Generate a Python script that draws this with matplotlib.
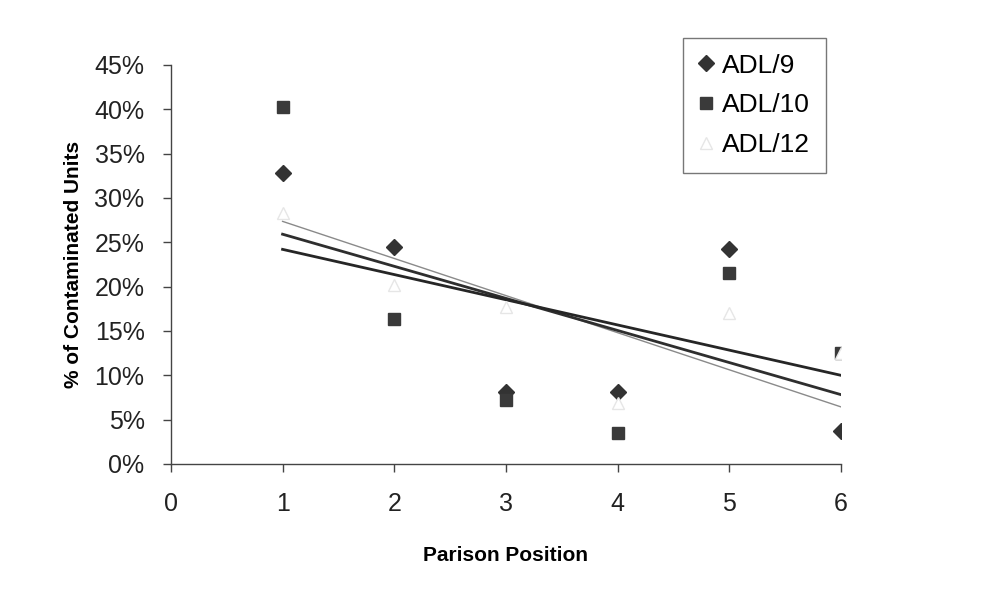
import numpy as np
import matplotlib
matplotlib.use("Agg")
import matplotlib.pyplot as plt

plt.rcParams['font.family'] = ['Liberation Sans', 'DejaVu Sans']

# Data (% of contaminated units)
positions = [1, 2, 3, 4, 5, 6]
adl9 = [32.8, 24.5, 8.1, 8.1, 24.2, 3.7]
adl10 = [40.2, 16.3, 7.2, 3.5, 21.5, 12.5]
adl12 = [28.3, 20.2, 17.7, 6.9, 17.0, 12.5]

fig = plt.figure(figsize=(9.88, 6.01), dpi=100)
ax = fig.add_axes([0.173, 0.228, 0.678, 0.664])

x = np.array(positions)

# linear trend lines, drawn first so markers sit on top
for vals, col, lw in [(adl9, '#8a8a8a', 1.0), (adl10, '#2e2e2e', 2.0), (adl12, '#262626', 2.0)]:
    k, b = np.polyfit(x, vals, 1)
    ax.plot(x, k * x + b, color=col, lw=lw, zorder=2)

ax.plot(x, adl9, 'D', color='#333333', ms=8.5, label='ADL/9', zorder=3)
ax.plot(x, adl10, 's', color='#3a3a3a', ms=9, label='ADL/10', zorder=3)
ax.plot(x, adl12, '^', mfc='white', mec='#e6e6e6', ms=9, label='ADL/12', zorder=4)

ax.set_xlim(0, 6)
ax.set_ylim(0, 45)
ax.set_xticks(range(0, 7))
ax.set_yticks(range(0, 50, 5))
ax.set_yticklabels([f'{v}%' for v in range(0, 50, 5)])
ax.tick_params(axis='both', direction='out', length=6, width=1, color='#444444',
               labelsize=18, labelcolor='#222222')
ax.tick_params(axis='x', pad=14)
ax.tick_params(axis='y', pad=13)

for s in ['top', 'right']:
    ax.spines[s].set_visible(False)
for s in ['left', 'bottom']:
    ax.spines[s].set_color('#444444')
    ax.spines[s].set_linewidth(1)

ax.set_xlabel('Parison Position', fontsize=15, fontweight='bold', labelpad=22)
ax.set_ylabel('% of Contaminated Units', fontsize=15, fontweight='bold', labelpad=8)

leg = ax.legend(loc='upper left', bbox_to_anchor=(0.764, 1.068), fontsize=19,
                frameon=True, fancybox=False, edgecolor='#555555', borderaxespad=0,
                handlelength=0.6, handletextpad=0.3, borderpad=0.6, labelspacing=0.6)
leg.get_frame().set_linewidth(1)

fig.savefig('out.png', dpi=100, facecolor='white')
